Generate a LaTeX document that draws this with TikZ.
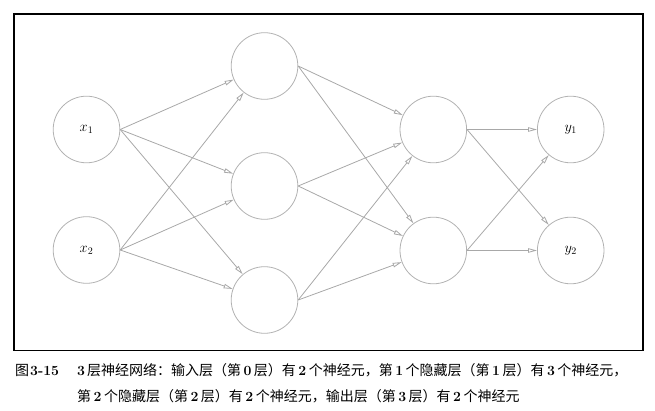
\documentclass[tikz,border=0pt]{standalone}
\usepackage{fontspec}
\newfontfamily\cjk{Noto Sans CJK SC}
\usetikzlibrary{arrows.meta}
\definecolor{linegray}{RGB}{168,168,168}
\definecolor{circgray}{RGB}{178,178,178}
\newcommand\dg[1]{\hspace{2.5pt}{\rmfamily\bfseries #1}\hspace{2.5pt}}
\tikzset{
  neuron/.style={circle, draw=circgray, line width=0.8pt, minimum size=66.6pt, inner sep=0pt, font=\fontsize{14}{16}\selectfont},
  conn/.style={draw=linegray, line width=0.8pt, -{Triangle[open,length=9pt,width=4.5pt]}},
  caption/.style={anchor=base west, inner sep=0pt, font=\fontsize{14}{16}\selectfont\cjk}
}
\begin{document}
\begin{tikzpicture}[x=1pt,y=-1pt]
\useasboundingbox (0,0) rectangle (655,411);
\draw[black, line width=1.2pt] (14,14) rectangle (643,350.5);
% input layer
\node[neuron] (x1) at (86.5,129.5) {$x_1$};
\node[neuron] (x2) at (86.5,250) {$x_2$};
% hidden layer 1
\node[neuron] (a1) at (264.5,66) {};
\node[neuron] (a2) at (264.5,186) {};
\node[neuron] (a3) at (264.5,300) {};
% hidden layer 2
\node[neuron] (b1) at (433.3,129.5) {};
\node[neuron] (b2) at (433.3,250.5) {};
% output layer
\node[neuron] (y1) at (570.7,129.5) {$y_1$};
\node[neuron] (y2) at (570.7,250.5) {$y_2$};
% connections
\foreach \s in {x1,x2}{\foreach \t in {a1,a2,a3}{\path[conn] (\s.east) -- (\t);}}
\foreach \s in {a1,a2,a3}{\foreach \t in {b1,b2}{\path[conn] (\s.east) -- (\t);}}
\foreach \s in {b1,b2}{\foreach \t in {y1,y2}{\path[conn] (\s.east) -- (\t);}}
% caption
\node[caption] (cap0) at (15,375.5) {图\hspace{1pt}{\rmfamily\bfseries 3-15}};
\node[caption] (cap1) at (77,375.5) {{\rmfamily\bfseries 3}\hspace{2pt}层神经网络：输入层（第\dg{0}层）有\dg{2}个神经元，第\dg{1}个隐藏层（第\dg{1}层）有\dg{3}个神经元，};
\node[caption] (cap2) at (77,401) {第\dg{2}个隐藏层（第\dg{2}层）有\dg{2}个神经元，输出层（第\dg{3}层）有\dg{2}个神经元};
\end{tikzpicture}
\end{document}
